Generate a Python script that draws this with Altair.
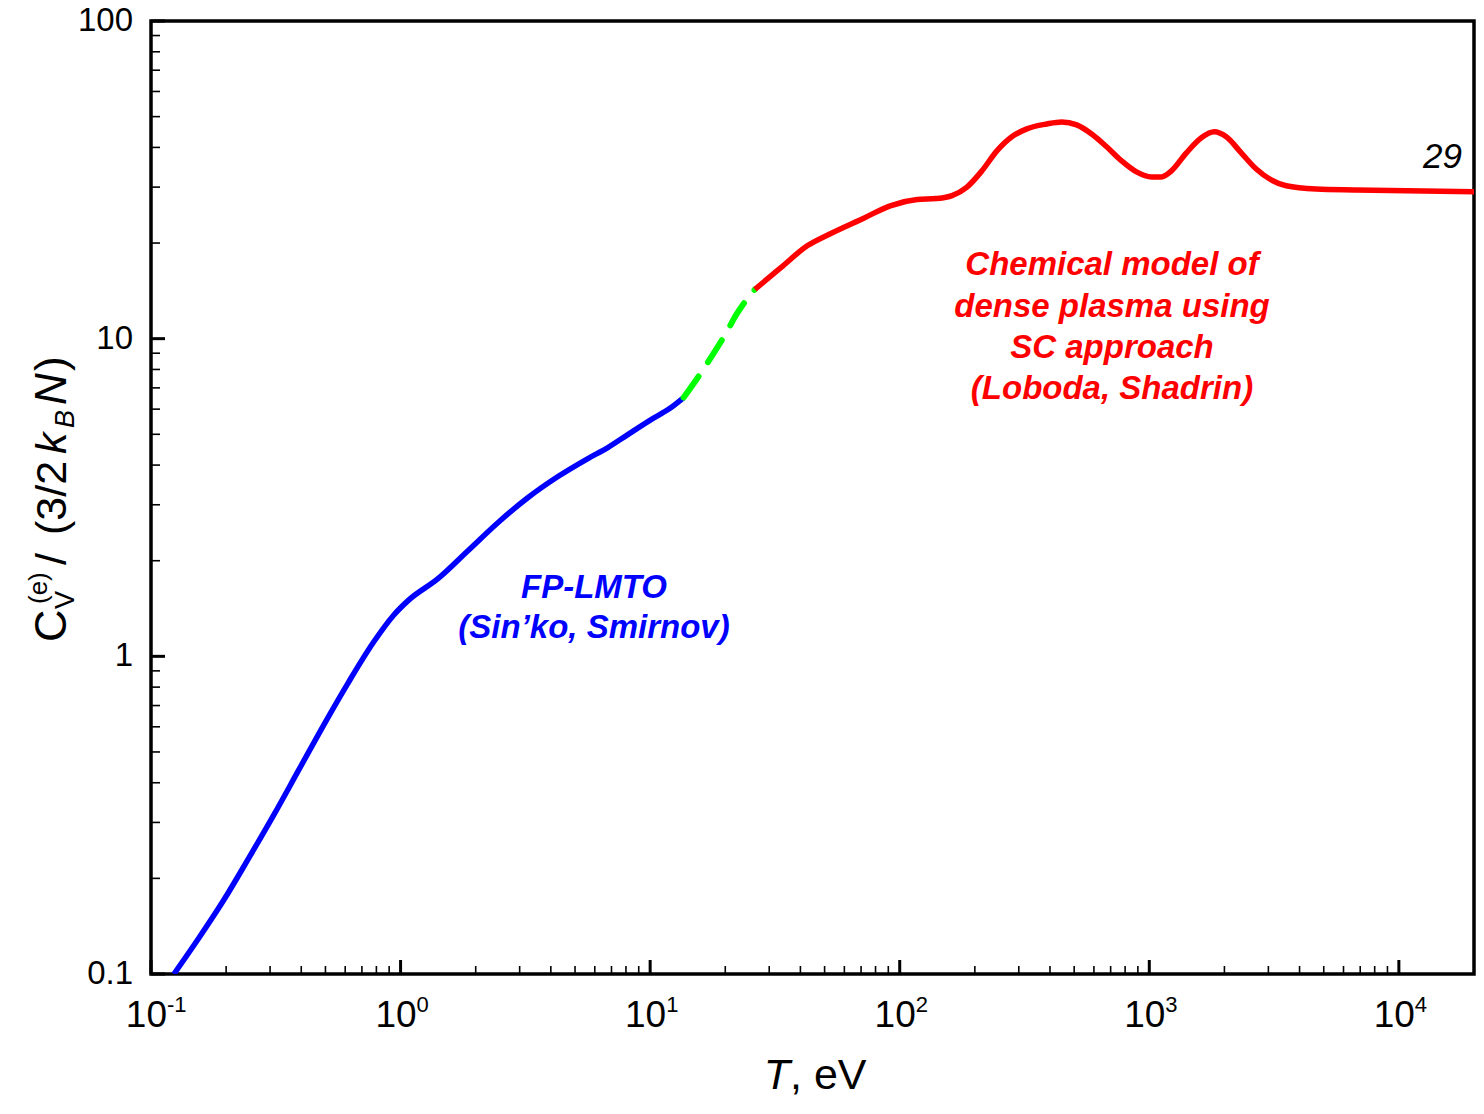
import altair as alt
import pandas as pd

# ---------------- data ----------------
blue_T = [0.1236, 0.1555, 0.1957, 0.2464, 0.3101, 0.3904, 0.4913, 0.6184, 0.7787, 0.9359,
          1.0745, 1.416, 1.866, 2.460, 3.243, 4.272, 5.631, 6.77, 8.137, 10.24, 11.97, 13.62]
blue_C = [0.100, 0.1298, 0.1709, 0.2316, 0.3162, 0.4381, 0.6067, 0.8284, 1.107, 1.345,
          1.500, 1.759, 2.154, 2.639, 3.162, 3.681, 4.194, 4.542, 4.99, 5.603, 6.025, 6.524]

green_T = [13.62, 16.2, 17.5, 20.4, 22.0, 26.3]
green_C = [6.524, 7.93, 8.71, 10.6, 11.8, 14.3]

red_T = [26.3, 33.3, 42.6, 52.7, 72.1, 91.6, 117.5, 140.0, 162.0, 185.9, 213.5, 245.1,
         281.3, 323.1, 388.2, 445.8, 511.7, 587.5, 674.5, 774.3, 888.8, 1020.5, 1118.9,
         1226.6, 1408.3, 1616.8, 1822.3, 2034.9, 2335.6, 2682.4, 3079.3, 3535.4, 4659,
         6732, 20000]
red_C = [14.3, 16.7, 19.6, 21.4, 24.0, 26.2, 27.4, 27.6, 28.2, 30.0, 33.75, 39.0,
         43.2, 45.75, 47.4, 48.1, 47.1, 44.1, 40.2, 36.3, 33.5, 32.3, 32.3,
         33.75, 38.45, 42.9, 44.8, 43.2, 38.45, 34.2, 31.6, 30.3, 29.6,
         29.4, 29.0]

x_major = [0.1, 1, 10, 100, 1000, 10000]
x_exp = ["-1", "0", "1", "2", "3", "4"]
y_major = [0.1, 1, 10, 100]
y_labels = ["0.1", "1", "10", "100"]
x_minor = [m * 10.0 ** e for e in range(-1, 4) for m in range(2, 10)]
y_minor = [m * 10.0 ** e for e in range(-1, 2) for m in range(2, 10)]

blue_label = ["FP-LMTO", "(Sin\u2019ko, Smirnov)"]
red_label = ["Chemical model of", "dense plasma using", "SC approach", "(Loboda, Shadrin)"]
end_label = "29"

FONT = "Liberation Sans, Arial, Helvetica, sans-serif"
W, H = 1323, 953

xscale = alt.Scale(type="log", domain=[0.1, 20000], nice=False)
yscale = alt.Scale(type="log", domain=[0.1, 100], nice=False)

df_blue = pd.DataFrame({"T": blue_T, "C": blue_C})
df_green = pd.DataFrame({"T": green_T, "C": green_C})
df_red = pd.DataFrame({"T": red_T, "C": red_C})
df_xmaj = pd.DataFrame({"T": x_major, "exp": x_exp, "base": ["10"] * len(x_major)})
df_xmin = pd.DataFrame({"T": x_minor})
df_ymaj = pd.DataFrame({"C": y_major, "lab": y_labels})
df_ymin = pd.DataFrame({"C": y_minor})
one = pd.DataFrame({"a": [0]})


def X():
    return alt.X("T:Q", scale=xscale, axis=None)


def Y():
    return alt.Y("C:Q", scale=yscale, axis=None)


blue = alt.Chart(df_blue).mark_line(color="#0000FF", strokeWidth=5.5, interpolate="monotone",
                                    clip=True).encode(x=X(), y=Y())
green = alt.Chart(df_green).mark_line(color="#00FF00", strokeWidth=6, interpolate="monotone",
                                      strokeDash=[26, 17], strokeCap="round").encode(x=X(), y=Y())
red = alt.Chart(df_red).mark_line(color="#FF0000", strokeWidth=5.5, interpolate="monotone",
                                  clip=True).encode(x=X(), y=Y())

# inward ticks
xt_major = alt.Chart(df_xmaj).mark_rule(color="black", strokeWidth=3).encode(
    x=X(), y=alt.value(H), y2=alt.value(H - 14))
xt_minor = alt.Chart(df_xmin).mark_rule(color="black", strokeWidth=1.6).encode(
    x=X(), y=alt.value(H), y2=alt.value(H - 8))
yt_major = alt.Chart(df_ymaj).mark_rule(color="black", strokeWidth=3).encode(
    y=Y(), x=alt.value(0), x2=alt.value(14))
yt_minor = alt.Chart(df_ymin).mark_rule(color="black", strokeWidth=1.6).encode(
    y=Y(), x=alt.value(0), x2=alt.value(9))

# tick labels
yl = alt.Chart(df_ymaj).mark_text(font=FONT, fontSize=33, align="right", baseline="middle",
                                  color="black").encode(y=Y(), x=alt.value(-18), text="lab:N")
xl_base = alt.Chart(df_xmaj).mark_text(font=FONT, fontSize=37, align="right", baseline="alphabetic",
                                       dx=16, color="black").encode(
    x=X(), y=alt.value(1006), text="base:N")
xl_exp = alt.Chart(df_xmaj).mark_text(font=FONT, fontSize=22, align="left", baseline="alphabetic",
                                      dx=16, color="black").encode(
    x=X(), y=alt.value(991), text="exp:N")


def txt(s, x, y, size, color="black", italic=False, bold=False, align="center", angle=0):
    kw = dict(text=s, font=FONT, fontSize=size, color=color, align=align, baseline="alphabetic",
              fontStyle="italic" if italic else "normal", fontWeight="bold" if bold else "normal")
    if angle:
        kw["angle"] = angle
    return alt.Chart(one).mark_text(**kw).encode(x=alt.value(x), y=alt.value(y))


labels = [
    # x-axis title
    txt("T", 639, 1068, 43, italic=True, align="right"),
    txt(", eV", 639, 1068, 43, align="left"),
    # y-axis title (rotated)
    txt("C", -85, 621, 45, align="left", angle=270),
    txt("V", -77, 588, 27, align="left", angle=270),
    txt("(e)", -104, 583, 26, align="left", angle=270),
    txt("/", -85, 544, 43, align="left", angle=270),
    txt("(3/2", -85, 514, 43, align="left", angle=270),
    txt("k", -85, 433, 43, italic=True, align="left", angle=270),
    txt("B", -77, 407, 27, italic=True, align="left", angle=270),
    txt("N", -85, 384, 44, italic=True, align="left", angle=270),
    txt(")", -85, 350, 44, align="left", angle=270),
    # in-plot annotations
    txt(blue_label[0], 443, 577, 33, color="#0000FF", italic=True, bold=True),
    txt(blue_label[1], 443, 617, 33, color="#0000FF", italic=True, bold=True),
    txt(red_label[0], 961, 254, 33, color="#FF0000", italic=True, bold=True),
    txt(red_label[1], 961, 296, 33, color="#FF0000", italic=True, bold=True),
    txt(red_label[2], 961, 337, 33, color="#FF0000", italic=True, bold=True),
    txt(red_label[3], 961, 378, 33, color="#FF0000", italic=True, bold=True),
    txt(end_label, 1311, 147, 35, italic=True, align="right"),
]

chart = alt.layer(
    blue, green, red, xt_major, xt_minor, yt_major, yt_minor, yl, xl_base, xl_exp, *labels
).properties(
    width=W, height=H,
    autosize=alt.AutoSizeParams(type="none"),
    padding={"left": 143, "top": 13, "right": 2, "bottom": 126},
    background="white",
).configure_view(stroke="black", strokeWidth=3.5)

chart.save("out.html", embed_options={"renderer": "svg", "actions": False})
